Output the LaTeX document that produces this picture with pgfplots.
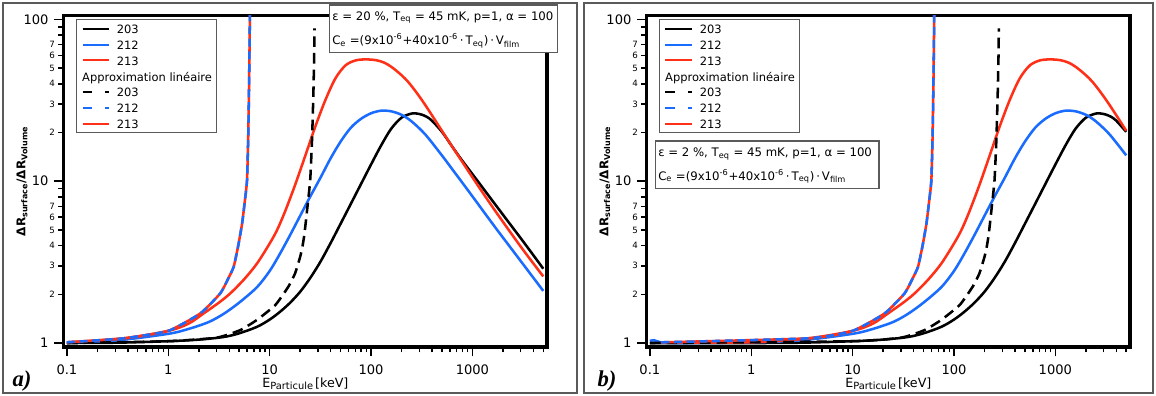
\documentclass[border=0pt]{standalone}
\usepackage{pgfplots}
\pgfplotsset{compat=1.18}
\usepackage{fontspec}
\setmainfont{DejaVu Sans}
\newfontfamily\serifbi{Liberation Serif}
\definecolor{cblue}{RGB}{26,108,255}
\definecolor{cred}{RGB}{255,48,24}
\definecolor{framec}{RGB}{90,90,90}

\begin{document}
\begin{tikzpicture}
\useasboundingbox (0,0) rectangle (867pt,297pt);
\fill[white] (0,0) rectangle (867pt,297pt);
\draw[framec, line width=1pt] (2.25pt,2.25pt) rectangle (432.75pt,294.75pt);
\draw[framec, line width=1pt] (438pt,2.25pt) rectangle (864.75pt,294.75pt);

% ---------------- panel a ----------------
\begin{axis}[at={(47.78pt,36.75pt)}, anchor=south west,
    scale only axis, width=362.5pt, height=248.5pt,
    xmode=log, ymode=log,
    xmin=0.093, xmax=5450, ymin=0.945, ymax=105.5,
    axis line style={line width=2.4pt},
    tick align=outside, tick pos=left,
    major tick length=7pt, minor tick length=4pt,
    tick style={black, line width=1.1pt},
    xtick={0.1,1,10,100,1000}, xticklabels={0.1,1,10,100,1000},
    minor xtick={0.2,0.3,0.4,0.5,0.6,0.7,0.8,0.9,2,3,4,5,6,7,8,9,20,30,40,50,60,70,80,90,200,300,400,500,600,700,800,900,2000,3000,4000,5000},
    ytick={1,10,100}, yticklabels={1,10,100},
    minor ytick={8,9,80,90},
    extra y ticks={2,3,4,5,6,7,20,30,40,50,60,70},
    extra y tick labels={2\kern-1.8pt,3\kern-1.8pt,4\kern-1.8pt,5\kern-1.8pt,6\kern-1.8pt,7\kern-1.8pt,2\kern-1.8pt,3\kern-1.8pt,4\kern-1.8pt,5\kern-1.8pt,6\kern-1.8pt,7\kern-1.8pt},
    extra y tick style={major tick length=4pt, yticklabel style={font=\fontsize{6.5}{7}\selectfont}},
    tick label style={font=\fontsize{9.8}{10}\selectfont},
    xticklabel style={anchor=base, inner sep=0pt, yshift=-13.7pt},
    yticklabel style={anchor=east, inner sep=0pt, xshift=-4.25pt},
    xlabel={E{\fontsize{7.4}{8}\selectfont\raisebox{-0.35ex}{Particule}}\,[keV]},
    ylabel={\bfseries ΔR\textsubscript{surface}/ΔR\textsubscript{Volume}},
    x label style={at={(rel axis cs:0.5,0)}, anchor=base, yshift=-30.2pt, font=\fontsize{9.5}{10}\selectfont},
    y label style={at={(rel axis cs:-0.0863,0.5)}, anchor=center, font=\fontsize{9}{10}\selectfont},
    legend image code/.code={\draw[#1] (0pt,0pt) -- (20pt,0pt);},
    legend style={at={(rel axis cs:0,1)}, anchor=north west, xshift=9.45pt, yshift=-2.5pt,
      draw=framec, line width=0.8pt, fill=white, inner xsep=3.5pt, inner ysep=3.2pt,
      row sep=4.34pt, column sep=5pt, font=\fontsize{8.6}{10}\selectfont,
      nodes={inner sep=0pt, text height=7.5pt, text depth=0pt}, cells={anchor=west}},
  ]
  \addlegendimage{black, line width=1.5pt}\addlegendentry{203}
  \addlegendimage{cblue, line width=1.5pt}\addlegendentry{212}
  \addlegendimage{cred, line width=1.5pt}\addlegendentry{213}
  \addlegendimage{empty legend}\addlegendentry{\hspace*{-25.95pt}Approximation linéaire}
  \addlegendimage{black, line width=1.5pt, dash pattern=on 7pt off 10pt}\addlegendentry{203}
  \addlegendimage{cblue, line width=1.5pt, dash pattern=on 7pt off 10pt}\addlegendentry{212}
  \addlegendimage{cred, line width=1.5pt}\addlegendentry{213}
\addplot[line width=1.9pt, smooth, tension=0.5, forget plot, black] coordinates {(0.1,1.0) (0.316,1.005) (1,1.026) (2,1.05) (3.5,1.089) (5,1.148) (7.5,1.259) (10,1.396) (12.6,1.556) (15.85,1.77) (19.95,2.07) (25.1,2.52) (31.6,3.17) (39.8,4.13) (50.1,5.46) (63.1,7.23) (79.4,9.57) (100,12.68) (126,16.67) (158,21.1) (200,24.7) (251,26.2) (282,26.2) (316,25.8) (355,25.0) (398,23.7) (501,20.2) (631,16.4) (794,13.4) (1000,11.07) (1259,9.14) (1679,7.19) (2239,5.66) (3000,4.44) (3981,3.5) (5000,2.88)};
\addplot[line width=1.9pt, smooth, tension=0.5, forget plot, cblue] coordinates {(0.1,1.01) (0.316,1.04) (1,1.14) (1.585,1.222) (2.512,1.349) (3.548,1.52) (5.01,1.778) (7.5,2.213) (10,2.786) (12.59,3.548) (15.85,4.624) (19.95,6.095) (25.12,8.035) (31.62,10.47) (39.81,13.8) (50.12,17.58) (63.1,21.38) (79.4,24.27) (100,26.3) (125.9,27.29) (158.5,27.04) (200.9,25.7) (251.2,23.44) (342,19.5) (500,14.45) (631,11.89) (849,9.27) (1000,8.07) (1679,5.19) (3000,3.21) (5000,2.1)};
\addplot[line width=1.9pt, smooth, tension=0.5, forget plot, cred] coordinates {(0.1,1.01) (0.363,1.069) (1,1.189) (1.585,1.318) (2.234,1.524) (3.162,1.778) (4.093,2.028) (5.623,2.483) (7.516,3.105) (10,4.121) (11.83,4.989) (14.13,6.457) (17.78,9.441) (22.39,14.29) (28.18,21.73) (35.48,31.77) (44.67,43.35) (56.23,52.12) (70.79,55.85) (89.13,56.62) (112.2,55.98) (134.9,54.08) (160.3,50.7) (199.5,45.29) (233.9,40.93) (281.8,35.24) (342,29.65) (446.7,22.91) (580.8,17.74) (794.3,13.18) (1067,9.95) (1679,6.56) (3000,3.94) (5000,2.58)};
\addplot[line width=1.9pt, smooth, tension=0.3, forget plot, black, dash pattern=on 8pt off 4.5pt] coordinates {(0.1,1.0) (1,1.026) (3,1.079) (5.1,1.2) (7.5,1.39) (11.4,1.72) (15.3,2.23) (17.8,2.69) (20,3.41) (21,3.9) (22,4.68) (23.2,6.3) (25.1,10.1) (26.2,18.2) (27,34.7) (27.5,60) (27.7,88)};
\addplot[line width=1.9pt, smooth, tension=0.3, forget plot, cred] coordinates {(0.1,1.01) (0.363,1.069) (1,1.189) (2.07,1.524) (3.26,2.028) (3.9,2.5) (4.42,2.96) (4.9,4.0) (5.35,5.48) (5.7,7.6) (5.98,10.1) (6.15,19) (6.25,35) (6.32,60) (6.38,100) (6.4,120)};
\addplot[line width=1.9pt, smooth, tension=0.3, forget plot, cblue, dash pattern=on 6pt off 3.5pt] coordinates {(0.1,1.01) (0.363,1.069) (1,1.189) (2.07,1.524) (3.26,2.028) (3.9,2.5) (4.42,2.96) (4.9,4.0) (5.35,5.48) (5.7,7.6) (5.98,10.1) (6.15,19) (6.25,35) (6.32,60) (6.38,100) (6.4,120)};
\end{axis}

% ---------------- panel b ----------------
\begin{axis}[at={(485.0pt,36.75pt)}, anchor=south west,
    scale only axis, width=362.5pt, height=248.5pt,
    xmode=log, ymode=log,
    xmin=0.093, xmax=5450, ymin=0.945, ymax=105.5,
    axis line style={line width=2.4pt},
    tick align=outside, tick pos=left,
    major tick length=7pt, minor tick length=4pt,
    tick style={black, line width=1.1pt},
    xtick={0.1,1,10,100,1000}, xticklabels={0.1,1,10,100,1000},
    minor xtick={0.2,0.3,0.4,0.5,0.6,0.7,0.8,0.9,2,3,4,5,6,7,8,9,20,30,40,50,60,70,80,90,200,300,400,500,600,700,800,900,2000,3000,4000,5000},
    ytick={1,10,100}, yticklabels={1,10,100},
    minor ytick={8,9,80,90},
    extra y ticks={2,3,4,5,6,7,20,30,40,50,60,70},
    extra y tick labels={2\kern-1.8pt,3\kern-1.8pt,4\kern-1.8pt,5\kern-1.8pt,6\kern-1.8pt,7\kern-1.8pt,2\kern-1.8pt,3\kern-1.8pt,4\kern-1.8pt,5\kern-1.8pt,6\kern-1.8pt,7\kern-1.8pt},
    extra y tick style={major tick length=4pt, yticklabel style={font=\fontsize{6.5}{7}\selectfont}},
    tick label style={font=\fontsize{9.8}{10}\selectfont},
    xticklabel style={anchor=base, inner sep=0pt, yshift=-13.7pt},
    yticklabel style={anchor=east, inner sep=0pt, xshift=-4.25pt},
    xlabel={E{\fontsize{7.4}{8}\selectfont\raisebox{-0.35ex}{Particule}}\,[keV]},
    ylabel={\bfseries ΔR\textsubscript{surface}/ΔR\textsubscript{Volume}},
    x label style={at={(rel axis cs:0.5,0)}, anchor=base, yshift=-30.2pt, font=\fontsize{9.5}{10}\selectfont},
    y label style={at={(rel axis cs:-0.0863,0.5)}, anchor=center, font=\fontsize{9}{10}\selectfont},
    legend image code/.code={\draw[#1] (0pt,0pt) -- (20pt,0pt);},
    legend style={at={(rel axis cs:0,1)}, anchor=north west, xshift=9.45pt, yshift=-2.5pt,
      draw=framec, line width=0.8pt, fill=white, inner xsep=3.5pt, inner ysep=3.2pt,
      row sep=4.34pt, column sep=5pt, font=\fontsize{8.6}{10}\selectfont,
      nodes={inner sep=0pt, text height=7.5pt, text depth=0pt}, cells={anchor=west}},
  ]
  \addlegendimage{black, line width=1.5pt}\addlegendentry{203}
  \addlegendimage{cblue, line width=1.5pt}\addlegendentry{212}
  \addlegendimage{cred, line width=1.5pt}\addlegendentry{213}
  \addlegendimage{empty legend}\addlegendentry{\hspace*{-25.95pt}Approximation linéaire}
  \addlegendimage{black, line width=1.5pt, dash pattern=on 7pt off 10pt}\addlegendentry{203}
  \addlegendimage{cblue, line width=1.5pt, dash pattern=on 7pt off 10pt}\addlegendentry{212}
  \addlegendimage{cred, line width=1.5pt}\addlegendentry{213}
\addplot[line width=1.9pt, smooth, tension=0.5, forget plot, black] coordinates {(0.1,1.0) (1,1.0) (3.16,1.005) (10,1.026) (20,1.05) (35,1.089) (50,1.148) (75,1.259) (100,1.396) (126,1.556) (158.5,1.77) (199.5,2.07) (251,2.52) (316,3.17) (398,4.13) (501,5.46) (631,7.23) (794,9.57) (1000,12.68) (1260,16.67) (1580,21.1) (2000,24.7) (2510,26.2) (2820,26.2) (3160,25.8) (3550,25.0) (3980,23.7) (5000,20.2)};
\addplot[line width=1.9pt, smooth, tension=0.5, forget plot, cblue] coordinates {(0.1,1.03) (0.11,1.04) (0.13,1.01) (0.2,1.0) (1,1.01) (3.16,1.04) (10,1.14) (15.85,1.222) (25.12,1.349) (35.48,1.52) (50.1,1.778) (75,2.213) (100,2.786) (125.9,3.548) (158.5,4.624) (199.5,6.095) (251.2,8.035) (316.2,10.47) (398.1,13.8) (501.2,17.58) (631,21.38) (794,24.27) (1000,26.3) (1259,27.29) (1585,27.04) (2009,25.7) (2512,23.44) (3420,19.5) (5000,14.45)};
\addplot[line width=1.9pt, smooth, tension=0.5, forget plot, cred] coordinates {(0.13,1.01) (1,1.01) (3.63,1.069) (10,1.189) (15.85,1.318) (22.34,1.524) (31.62,1.778) (40.93,2.028) (56.23,2.483) (75.16,3.105) (100,4.121) (118.3,4.989) (141.3,6.457) (177.8,9.441) (223.9,14.29) (281.8,21.73) (354.8,31.77) (446.7,43.35) (562.3,52.12) (707.9,55.85) (891.3,56.62) (1122,55.98) (1349,54.08) (1603,50.7) (1995,45.29) (2339,40.93) (2818,35.24) (3420,29.65) (4467,22.91) (5000,20.5)};
\addplot[line width=1.9pt, smooth, tension=0.3, forget plot, black, dash pattern=on 8pt off 4.5pt] coordinates {(0.1,1.0) (10,1.026) (30,1.079) (51,1.2) (75,1.39) (114,1.72) (153,2.23) (178,2.69) (200,3.41) (210,3.9) (220,4.68) (232,6.3) (251,10.1) (262,18.2) (270,34.7) (275,60) (277,88)};
\addplot[line width=1.9pt, smooth, tension=0.3, forget plot, cred] coordinates {(0.13,1.01) (3.63,1.069) (10,1.189) (20.7,1.524) (32.6,2.028) (39,2.5) (44.2,2.96) (49,4.0) (53.5,5.48) (57,7.6) (59.8,10.1) (61.5,19) (62.5,35) (63.2,60) (63.8,100) (64,120)};
\addplot[line width=1.9pt, smooth, tension=0.3, forget plot, cblue, dash pattern=on 6pt off 3.5pt] coordinates {(0.13,1.01) (3.63,1.069) (10,1.189) (20.7,1.524) (32.6,2.028) (39,2.5) (44.2,2.96) (49,4.0) (53.5,5.48) (57,7.6) (59.8,10.1) (61.5,19) (62.5,35) (63.2,60) (63.8,100) (64,120)};
\end{axis}

% annotation boxes
\draw[framec, line width=1pt, fill=white] (247.2pt,257.5pt) rectangle (418.05pt,293.25pt);
\node[anchor=base west, inner sep=0pt, font=\fontsize{8.8}{10}\selectfont] at (249pt,281.5pt) {ε = 20 \%, T\textsubscript{eq} = 45 mK, p=1, α = 100};
\node[anchor=base west, inner sep=0pt, font=\fontsize{8.8}{10}\selectfont] at (249pt,263.25pt) {C\textsubscript{e} =(9x10\textsuperscript{-6}+40x10\textsuperscript{-6}\,·\,T\textsubscript{eq})\,·\,V\textsubscript{film}};

\draw[framec, line width=1pt, fill=white] (491.6pt,155.6pt) rectangle (659.25pt,191.25pt);
\node[anchor=base west, inner sep=0pt, font=\fontsize{8.8}{10}\selectfont] at (493.5pt,179.25pt) {ε = 2 \%, T\textsubscript{eq} = 45 mK, p=1, α = 100};
\node[anchor=base west, inner sep=0pt, font=\fontsize{8.8}{10}\selectfont] at (493.5pt,161.5pt) {C\textsubscript{e} =(9x10\textsuperscript{-6}+40x10\textsuperscript{-6}\,·\,T\textsubscript{eq})\,·\,V\textsubscript{film}};

\node[font=\serifbi\bfseries\itshape\fontsize{17}{17}\selectfont] at (16.5pt,11.5pt) {a)};
\node[font=\serifbi\bfseries\itshape\fontsize{17}{17}\selectfont] at (455.25pt,11.5pt) {b)};
\end{tikzpicture}
\end{document}
